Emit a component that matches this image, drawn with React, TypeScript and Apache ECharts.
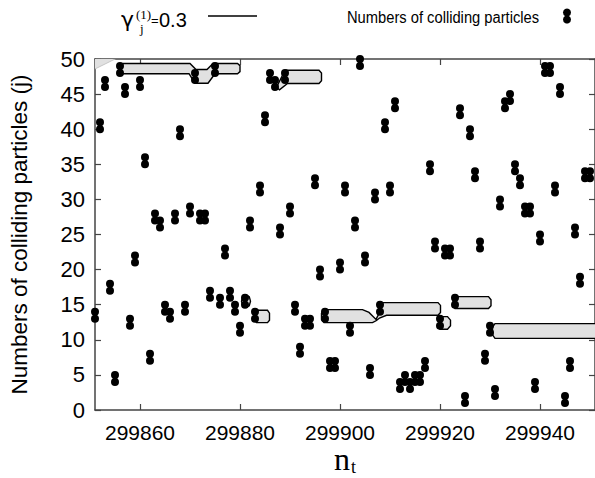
import React, { useEffect, useRef } from "react";
import * as echarts from "echarts";

// time steps n_t
const timeSteps = [
  299851, 299852, 299853, 299854, 299855, 299856, 299857, 299858, 299859, 299860,
  299861, 299862, 299863, 299864, 299865, 299866, 299867, 299868, 299869, 299870,
  299871, 299872, 299873, 299874, 299875, 299876, 299877, 299878, 299879, 299880,
  299881, 299882, 299883, 299884, 299885, 299886, 299887, 299888, 299889, 299890,
  299891, 299892, 299893, 299894, 299895, 299896, 299897, 299898, 299899, 299900,
  299901, 299902, 299903, 299904, 299905, 299906, 299907, 299908, 299909, 299910,
  299911, 299912, 299913, 299914, 299915, 299916, 299917, 299918, 299919, 299920,
  299921, 299922, 299923, 299924, 299925, 299926, 299927, 299928, 299929, 299930,
  299931, 299932, 299933, 299934, 299935, 299936, 299937, 299938, 299939, 299940,
  299941, 299942, 299943, 299944, 299945, 299946, 299947, 299948, 299949, 299950,
];

// lower index j of the colliding pair (j, j+1) at each time step
const collidingJ = [
  13, 40, 46, 17, 4, 48, 45, 12, 21, 46,
  35, 7, 27, 26, 14, 13, 27, 39, 14, 28,
  47, 27, 27, 16, 48, 15, 22, 16, 14, 11,
  15, 26, 13, 31, 41, 47, 46, 25, 47, 28,
  14, 8, 12, 12, 32, 19, 13, 6, 6, 20,
  31, 11, 26, 49, 21, 5, 30, 14, 40, 31,
  43, 3, 4, 3, 4, 4, 6, 34, 23, 12,
  22, 22, 15, 42, 1, 39, 33, 23, 7, 11,
  2, 29, 43, 44, 34, 32, 28, 28, 3, 24,
  48, 48, 31, 45, 1, 6, 25, 18, 33, 33,
];

const xTickValues = [299860, 299880, 299900, 299920, 299940];

// contour regions gamma_j^(1) = 0.3, outlines in (n_t, j)
const wedgeTopLeft = [[299850.5, 50.2], [299855.6, 50.2], [299850.5, 48.4]];
const bandTop = [
  [299856.2, 49.0], [299856.6, 49.35], [299870.0, 49.35], [299871.2, 48.5], [299873.4, 48.5],
  [299874.6, 49.35], [299879.5, 49.35], [299880.0, 49.05], [299880.0, 48.2], [299879.5, 47.9],
  [299875.0, 47.9], [299873.6, 46.55], [299871.0, 46.55], [299869.8, 47.9], [299856.6, 47.9],
  [299856.2, 48.25],
];
const bubble884 = [
  [299882.9, 13.8], [299883.3, 14.2], [299885.5, 14.2], [299885.9, 13.8],
  [299885.9, 12.8], [299885.5, 12.45], [299883.3, 12.45], [299882.9, 12.8],
];
const bubble889 = [
  [299887.3, 46.0], [299888.8, 48.1], [299889.2, 48.4], [299895.8, 48.4], [299896.3, 48.0],
  [299896.3, 46.9], [299895.8, 46.5], [299889.5, 46.5], [299887.9, 45.6],
];
const ring881 = [
  [299880.3, 15.5], [299880.55, 16.15], [299881.2, 16.4], [299881.85, 16.15],
  [299882.1, 15.5], [299881.85, 14.85], [299881.2, 14.6], [299880.55, 14.85],
];
const bubble897to920 = [
  [299896.8, 14.3], [299904.5, 14.3], [299905.8, 13.9], [299907.2, 12.9], [299907.7, 13.6],
  [299907.8, 14.8], [299908.3, 15.3], [299919.6, 15.3], [299920.1, 14.9], [299920.1, 13.9],
  [299919.6, 13.5], [299909.3, 13.5], [299907.9, 13.1], [299907.3, 12.75], [299906.5, 12.45],
  [299896.8, 12.45], [299896.3, 12.9], [299896.3, 13.8],
];
const ring921 = [
  [299920.0, 13.3], [299921.5, 13.3], [299922.1, 12.8], [299922.1, 12.0], [299921.5, 11.5], [299920.0, 11.5],
];
const bubble923 = [
  [299922.6, 15.7], [299923.0, 16.15], [299929.7, 16.15], [299930.2, 15.7],
  [299930.2, 14.85], [299929.7, 14.45], [299923.0, 14.45], [299922.6, 14.85],
];
const bubble930 = [
  [299930.5, 11.8], [299931.0, 12.3], [299953, 12.3], [299953, 10.2], [299931.0, 10.2], [299930.5, 10.7],
];

const contourShapes = [
  wedgeTopLeft, bandTop, bubble884, bubble889, ring881, bubble897to920, ring921, bubble923, bubble930,
];

const pairSymbol =
  "path://M0,4a4,4 0 1,0 8,0a4,4 0 1,0 -8,0M0,11a4,4 0 1,0 8,0a4,4 0 1,0 -8,0";

const FRAME = "#444";
const SANS = "'Liberation Sans', Arial, Helvetica, sans-serif";
const SERIF = "'Liberation Serif', 'Times New Roman', serif";

export default function App() {
  const ref = useRef<HTMLDivElement>(null);

  useEffect(() => {
    if (!ref.current) return;
    const chart = echarts.init(ref.current, undefined, { renderer: "svg" });

    const axisLine = { show: true, onZero: false, lineStyle: { color: FRAME, width: 1.5 } };
    const tickStyle = { color: FRAME, width: 1.2 };

    const option: any = {
      animation: false,
      backgroundColor: "#ffffff",
      grid: { left: 94, top: 59, width: 502, height: 351, containLabel: false },
      xAxis: [
        {
          type: "value",
          min: 299851,
          max: 299951,
          position: "bottom",
          axisLine,
          axisTick: { show: true, inside: true, length: 6, customValues: xTickValues, lineStyle: tickStyle },
          axisLabel: {
            customValues: xTickValues,
            fontSize: 21,
            color: "#000",
            margin: 12,
            fontFamily: SANS,
            formatter: (v: number) => String(v),
          },
          splitLine: { show: false },
        },
        {
          type: "value",
          min: 299851,
          max: 299951,
          position: "top",
          axisLine,
          axisTick: { show: true, inside: true, length: 6, customValues: xTickValues, lineStyle: tickStyle },
          axisLabel: { show: false },
          splitLine: { show: false },
        },
      ],
      yAxis: [
        {
          type: "value",
          min: 0,
          max: 50,
          interval: 5,
          position: "left",
          axisLine,
          axisTick: { show: true, inside: true, length: 6, lineStyle: tickStyle },
          axisLabel: { fontSize: 22, color: "#000", margin: 10, fontFamily: SANS },
          splitLine: { show: false },
          name: "Numbers of colliding particles (j)",
          nameLocation: "middle",
          nameRotate: 90,
          nameGap: 64,
          nameTextStyle: { fontSize: 22.5, color: "#000", fontFamily: SANS },
        },
        {
          type: "value",
          min: 0,
          max: 50,
          interval: 5,
          position: "right",
          axisLine,
          axisTick: { show: true, inside: true, length: 6, lineStyle: tickStyle },
          axisLabel: { show: false },
          splitLine: { show: false },
        },
      ],
      graphic: [
        { type: "text", x: 121, y: 19, style: { text: "γ", font: `22px 'DejaVu Sans', sans-serif`, fill: "#000", textVerticalAlign: "middle" } },
        { type: "text", x: 136, y: 14, style: { text: "(1)", font: `13px ${SERIF}`, fill: "#000", textVerticalAlign: "middle" } },
        { type: "text", x: 140, y: 28, style: { text: "j", font: `13px ${SERIF}`, fill: "#000", textVerticalAlign: "middle" } },
        { type: "text", x: 151, y: 20, style: { text: "=", font: `13px ${SANS}`, fill: "#000", textVerticalAlign: "middle" } },
        { type: "text", x: 159, y: 20, style: { text: "0.3", font: `20px ${SANS}`, fill: "#000", textVerticalAlign: "middle" } },
        { type: "line", shape: { x1: 208, y1: 16, x2: 257, y2: 16 }, style: { stroke: "#000", lineWidth: 1.5 } },
        {
          type: "text",
          x: 347,
          y: 17,
          scaleX: 0.92,
          style: { text: "Numbers of colliding particles", font: `16px ${SANS}`, fill: "#000", textVerticalAlign: "middle" },
        },
        { type: "circle", shape: { cx: 567, cy: 12.5, r: 4 }, style: { fill: "#000" } },
        { type: "circle", shape: { cx: 567, cy: 19.5, r: 4 }, style: { fill: "#000" } },
        { type: "text", x: 334, y: 459, style: { text: "n", font: `32px ${SERIF}`, fill: "#000", textVerticalAlign: "middle" } },
        { type: "text", x: 351, y: 467, style: { text: "t", font: `18px ${SERIF}`, fill: "#000", textVerticalAlign: "middle" } },
      ],
      series: [
        {
          type: "custom",
          xAxisIndex: 0,
          yAxisIndex: 0,
          z: 1,
          data: contourShapes.map((s) => s[0]),
          renderItem: (params: any, api: any) => {
            const pts = contourShapes[params.dataIndex].map((p) => api.coord(p));
            const cs = params.coordSys;
            const isWedge = params.dataIndex === 0;
            return {
              type: "group",
              clipPath: { type: "rect", shape: { x: cs.x, y: cs.y, width: cs.width, height: cs.height } },
              children: [
                {
                  type: "polygon",
                  shape: { points: pts },
                  style: {
                    fill: "#e1e1e1",
                    stroke: isWedge ? "#bbb" : "#000",
                    lineWidth: isWedge ? 0.8 : 1.4,
                  },
                },
              ],
            };
          },
        },
        {
          type: "scatter",
          xAxisIndex: 0,
          yAxisIndex: 0,
          z: 5,
          clip: false,
          symbol: pairSymbol,
          symbolSize: [8, 15],
          symbolOffset: [0, -3.5],
          itemStyle: { color: "#000", opacity: 1 },
          data: timeSteps.map((t, i) => [t, collidingJ[i]]),
        },
      ],
    };

    chart.setOption(option);
    return () => chart.dispose();
  }, []);

  return (
    <div
      ref={ref}
      style={{ position: "absolute", left: 0, top: 0, width: 595, height: 478, background: "#fff" }}
    />
  );
}
